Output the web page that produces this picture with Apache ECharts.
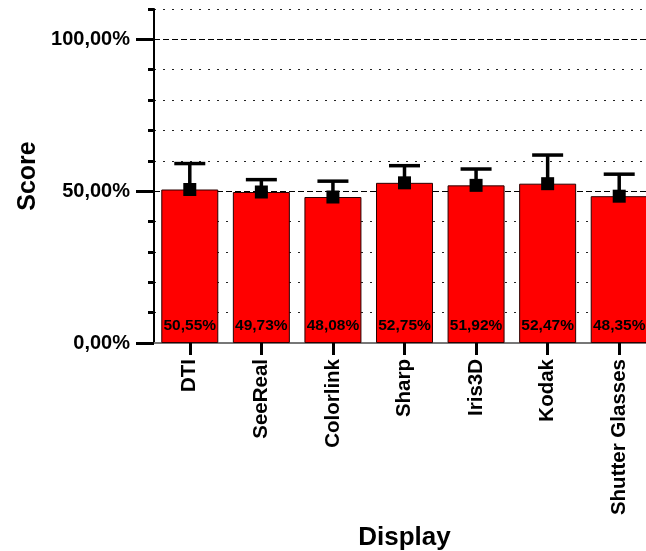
<!DOCTYPE html>
<html>
<head>
<meta charset="utf-8">
<script src="https://cdn.jsdelivr.net/npm/echarts@6/dist/echarts.min.js"></script>
<style>
  html, body { margin: 0; padding: 0; background: #fff; }
  #chart { width: 646px; height: 551px; }
</style>
</head>
<body>
<div id="chart"></div>
<script>
// Mean score per display and the top of each error bar (percent)
const displays = ['DTI', 'SeeReal', 'Colorlink', 'Sharp', 'Iris3D', 'Kodak', 'Shutter Glasses'];
const meanScores = [50.55, 49.73, 48.08, 52.75, 51.92, 52.47, 48.35];
const errorTops = [59.1, 53.8, 53.3, 58.4, 57.3, 61.9, 55.6];
const majorTicks = [0, 50, 100];

const FONT = 'Liberation Sans, Arial, sans-serif';
const fmtPct = v => v.toFixed(2).replace('.', ',') + '%';

const chart = echarts.init(document.getElementById('chart'), null, { renderer: 'canvas' });

const errorData = displays.map((d, i) => [i, meanScores[i], errorTops[i]]);

chart.setOption({
  animation: false,
  backgroundColor: '#fff',
  grid: [
    // main plotting area, 0 – 110 %
    { left: 154, top: 9, width: 501, height: 334, outerBoundsMode: 'none', containLabel: false },
    // major-tick scale, 0 – 100 %
    { left: 154, top: 39.4, width: 501, height: 303.6, outerBoundsMode: 'none', containLabel: false }
  ],
  xAxis: [
    {
      type: 'category',
      gridIndex: 0,
      data: displays,
      name: 'Display',
      nameLocation: 'middle',
      nameGap: 182,
      nameTextStyle: { fontFamily: FONT, fontWeight: 'bold', fontSize: 26, color: '#000' },
      axisLine: { show: true, lineStyle: { color: '#777', width: 2 } },
      axisTick: { show: true, alignWithLabel: true, length: 12, lineStyle: { color: '#000', width: 3 } },
      axisLabel: {
        rotate: 90, margin: 16, interval: 0,
        fontFamily: FONT, fontWeight: 'bold', fontSize: 20.5, color: '#000'
      },
      splitLine: { show: false }
    },
    { type: 'category', gridIndex: 1, data: displays, show: false }
  ],
  yAxis: [
    {
      type: 'value',
      gridIndex: 0,
      min: 0, max: 110, interval: 10,
      name: 'Score',
      nameLocation: 'middle',
      nameGap: 113,
      nameTextStyle: { fontFamily: FONT, fontWeight: 'bold', fontSize: 25, color: '#000' },
      axisLine: { show: true, lineStyle: { color: '#000', width: 2 } },
      axisTick: { show: true, length: 6, lineStyle: { color: '#000', width: 3 } },
      axisLabel: { show: false },
      splitLine: { show: true, lineStyle: { color: '#222', width: 1, type: [2, 7] } }
    },
    {
      type: 'value',
      gridIndex: 1,
      min: 0, max: 100, interval: 50,
      axisLine: { show: false },
      axisTick: { show: true, length: 18, lineStyle: { color: '#000', width: 3 } },
      axisLabel: {
        margin: 24,
        fontFamily: FONT, fontWeight: 'bold', fontSize: 20, color: '#000',
        formatter: v => (majorTicks.indexOf(v) >= 0 ? fmtPct(v) : '')
      },
      splitLine: { show: true, lineStyle: { color: '#000', width: 1, type: [6, 3] } }
    }
  ],
  series: [
    {
      type: 'bar',
      xAxisIndex: 0, yAxisIndex: 0,
      data: meanScores,
      barWidth: 57,
      z: 2,
      itemStyle: { color: '#ff0000', borderColor: '#2a0000', borderWidth: 1 },
      label: {
        show: true,
        position: 'insideBottom',
        distance: 9,
        fontFamily: FONT, fontWeight: 'bold', fontSize: 15.5, color: '#000',
        formatter: p => fmtPct(p.value)
      }
    },
    {
      type: 'custom',
      xAxisIndex: 0, yAxisIndex: 0,
      z: 3,
      data: errorData,
      encode: { x: 0, y: [1, 2] },
      renderItem: (params, api) => {
        const i = api.value(0);
        const mean = api.coord([i, api.value(1)]);
        const top = api.coord([i, api.value(2)]);
        const capHalf = 15.5;
        const sq = 13;
        return {
          type: 'group',
          children: [
            { type: 'line', shape: { x1: mean[0], y1: mean[1], x2: top[0], y2: top[1] },
              style: { stroke: '#000', lineWidth: 3.5 } },
            { type: 'line', shape: { x1: top[0] - capHalf, y1: top[1], x2: top[0] + capHalf, y2: top[1] },
              style: { stroke: '#000', lineWidth: 3.5 } },
            { type: 'rect', shape: { x: mean[0] - sq / 2, y: mean[1] - sq / 2, width: sq, height: sq },
              style: { fill: '#000' } }
          ]
        };
      }
    }
  ]
});
</script>
</body>
</html>
